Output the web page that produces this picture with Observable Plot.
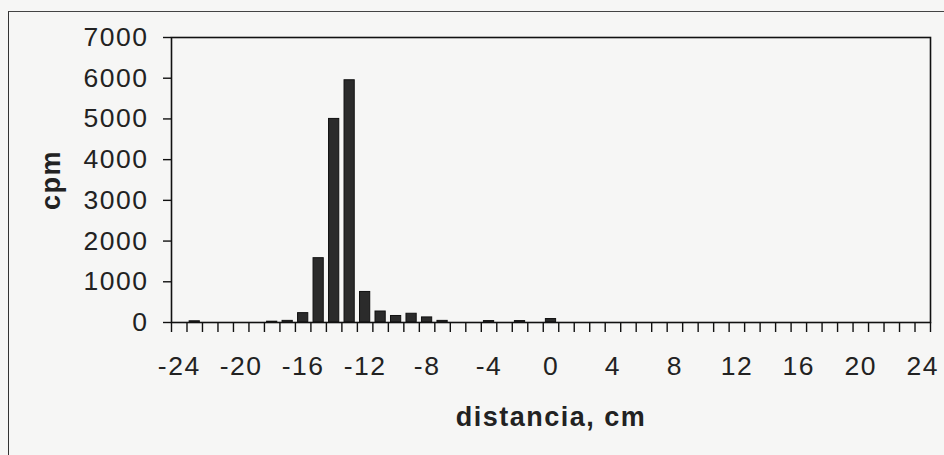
<!DOCTYPE html>
<html>
<head>
<meta charset="utf-8">
<script src="https://cdn.jsdelivr.net/npm/d3@7"></script>
<script src="https://cdn.jsdelivr.net/npm/@observablehq/plot@0.6"></script>
<style>
  html, body { margin: 0; padding: 0; background: #f6f6f5; }
  #wrap { position: relative; width: 944px; height: 455px; overflow: hidden; }
  #outer { position: absolute; left: 8px; top: 11px; right: -10px; bottom: -10px;
           border-left: 1.5px solid #333; border-top: 1.5px solid #444; pointer-events: none; }
  svg text { letter-spacing: 1.5px; }
</style>
</head>
<body>
<div id="wrap"><div id="outer"></div></div>
<script>
const distances = d3.range(-24, 25, 1);
const cpm = [
  0, 30, 0, 0, 0, 0, 20, 40, 230, 1580, 5000, 5950, 750, 270, 160, 215, 125, 40,
  0, 0, 35, 0, 35, 0, 85,
  0, 0, 0, 0, 0, 0, 0, 0, 0, 0, 0, 0, 0, 0, 0, 0, 0, 0, 0, 0, 0, 0, 0, 0
];
const yTicks = d3.range(0, 7001, 1000);
const xLabelTicks = d3.range(-24, 25, 4);
const xTitle = "distancia, cm";
const yTitle = "cpm";

const data = distances.map((d, i) => ({x: d, v: cpm[i]})).filter(d => d.v > 0);
const xBoundaries = d3.range(-24.5, 25, 1);
const half = 0.33;

const font = "'Liberation Sans', Arial, Helvetica, sans-serif";

const chart = Plot.plot({
  width: 944,
  height: 455,
  marginLeft: 171,
  marginRight: 14,
  marginTop: 37,
  marginBottom: 133,
  style: {background: "transparent", fontFamily: font, color: "#222"},
  x: {domain: [-24.5, 24.5]},
  y: {domain: [0, 7000]},
  marks: [
    Plot.rect(data, {
      x1: d => d.x - half, x2: d => d.x + half, y1: 0, y2: "v",
      fill: "#2b2b2b", stroke: "#111", strokeWidth: 1
    }),
    Plot.frame({stroke: "#111", strokeWidth: 1.6}),
    Plot.axisY({ticks: yTicks, tickSize: 8, tickPadding: 15, fontSize: 26.5, label: null,
                stroke: "#111", strokeWidth: 1.4, tickFormat: d => String(d)}),
    Plot.axisX({ticks: xBoundaries, tickSize: 10, text: null, label: null,
                stroke: "#111", strokeWidth: 1.4}),
    Plot.axisX({ticks: xLabelTicks, tickSize: 0, tickPadding: 34, fontSize: 26.5, label: null,
                tickFormat: d => String(d)}),
    Plot.text([yTitle], {frameAnchor: "left", dx: -120, rotate: -90, text: d => d,
                fontSize: 27, fontWeight: "bold", lineAnchor: "middle", textAnchor: "middle", fill: "#222"}),
    Plot.text([xTitle], {frameAnchor: "bottom", dy: 95, text: d => d,
                fontSize: 27, fontWeight: "bold", lineAnchor: "middle", textAnchor: "middle", fill: "#222"})
  ]
});
document.getElementById("wrap").prepend(chart);
</script>
</body>
</html>
